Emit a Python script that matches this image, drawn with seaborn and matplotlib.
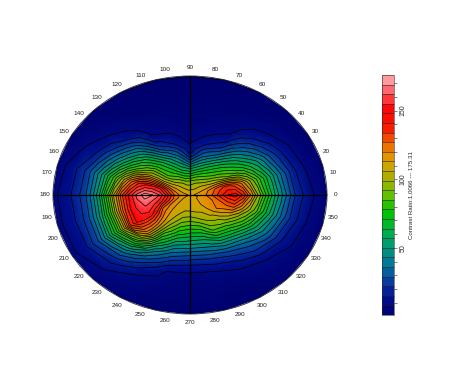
import numpy as np
import matplotlib
matplotlib.use("Agg")
import matplotlib.pyplot as plt
import seaborn as sns

# viewing direction (deg) and polar angle (deg) of the measurement grid
azimuth = list(range(0, 360, 15))
polar = [0, 5, 10, 15, 20, 25, 30, 35, 40, 45, 50, 55, 60, 65, 70, 80, 90]

# contrast ratio, one row per azimuth
contrast = [
    [112, 114, 119, 128, 138, 148, 152, 140, 120, 98, 78, 60, 45, 32, 20, 9, 3],         # 0
    [112, 113, 117, 124, 132, 136, 131, 119, 102, 86, 70, 55, 40, 28, 17, 6, 3],         # 15
    [112, 111, 110, 108, 104, 96, 88, 81, 73, 62, 52, 40, 28, 19, 12, 4, 2],             # 30
    [112, 109, 105, 96, 86, 78, 70, 60, 50, 40, 30, 22, 15, 10, 6, 3, 2],                # 45
    [112, 106, 100, 88, 75, 63, 50, 36, 24, 16, 10, 7, 5, 4, 3, 2, 1],                   # 60
    [112, 105, 97, 82, 64, 49, 35, 24, 14, 9, 6, 5, 4, 3.5, 3, 2, 1],                    # 75
    [112, 104, 94, 75, 56, 34, 16, 10, 7, 5, 4, 3.5, 3, 2.5, 2, 1.5, 1],                 # 90
    [112, 104, 95, 78, 62, 50, 38, 26, 15, 10, 7, 5, 4, 3.5, 3, 2, 1],                   # 105
    [112, 106, 100, 88, 75, 66, 56, 42, 28, 17, 9, 7, 5, 4, 3, 2, 1],                    # 120
    [112, 109, 105, 96, 86, 82, 78, 69, 59, 47, 35, 23, 13, 9, 6, 3, 2],                 # 135
    [112, 111, 112, 110, 108, 108, 106, 96, 84, 70, 55, 42, 30, 20, 12, 6, 3],           # 150
    [112, 114, 120, 132, 146, 149, 148, 140, 125, 106, 86, 67, 50, 36, 24, 11, 5],       # 165
    [112, 116, 126, 145, 162, 170, 173, 164, 150, 132, 107, 80, 55, 38, 25, 13, 6],      # 180
    [112, 116, 123, 137, 150, 158, 163, 158, 150, 130, 104, 78, 55, 38, 25, 12, 6],      # 195
    [112, 113, 116, 120, 125, 142, 152, 153, 150, 135, 105, 80, 60, 42, 28, 12, 6],      # 210
    [112, 111, 111, 112, 114, 118, 122, 122, 118, 100, 78, 56, 40, 28, 18, 8, 5],        # 225
    [112, 111, 110, 108, 105, 100, 92, 81, 70, 56, 42, 31, 20, 13, 8, 5, 3],             # 240
    [112, 111, 109, 103, 95, 85, 74, 61, 48, 36, 25, 15, 8, 6, 5, 3, 2],                 # 255
    [112, 110, 109, 102, 92, 80, 68, 56, 44, 31, 20, 12, 7, 5, 4, 3, 2],                 # 270
    [112, 111, 110, 104, 96, 83, 70, 57, 45, 33, 22, 14, 8, 6, 4, 3, 2],                 # 285
    [112, 112, 110, 106, 102, 95, 87, 72, 56, 41, 28, 19, 12, 8, 5, 3, 2],               # 300
    [112, 112, 113, 112, 108, 101, 93, 80, 66, 51, 38, 29, 22, 14, 8, 4.5, 3],           # 315
    [112, 113, 116, 118, 120, 115, 108, 96, 84, 69, 55, 43, 32, 22, 14, 5.5, 3],         # 330
    [112, 113, 116, 120, 125, 130, 132, 118, 102, 88, 69, 54, 40, 28, 18, 7, 3],         # 345
]

level_min = 1.0066
level_step = 7
n_bands = 25
color_stops = ["#00006e", "#001090", "#0a40a0", "#007898", "#009a78", "#00b040", "#00c400",
               "#60c000", "#a8b000", "#e0a000", "#f06800", "#f81800", "#ff0000", "#ff5860", "#ffb4b4"]
colorbar_ticks = list(range(10, 180, 10))
colorbar_labels = ["50", "100", "150"]
cbar_title = "Contrast Ratio:1.0066 --- 175.31"

sns.set_style("white")
plt.rcParams["font.family"] = ["Liberation Sans", "DejaVu Sans"]

levels = level_min + level_step * np.arange(n_bands + 1)
cmap = sns.blend_palette(color_stops, n_colors=256, as_cmap=True)

theta = np.radians(azimuth + [360])
values = np.array(contrast + [contrast[0]])

fig = plt.figure(figsize=(4.5, 3.9), dpi=100)
ax = fig.add_axes([53 / 450, 76 / 390, 274 / 450, 238 / 390], projection="polar")
ax.set_aspect("auto")

mesh = ax.pcolormesh(theta, polar, values.T, shading="gouraud", cmap=cmap,
                     vmin=levels[0], vmax=levels[-1])
ax.contour(theta, polar, values.T, levels=levels, colors="black", linewidths=0.5)

# dotted grid and the solid cross through the middle
ax.set_ylim(0, 90)
ax.set_xticks(np.radians(range(0, 360, 10)))
ax.set_xticklabels([str(a) for a in range(0, 360, 10)], fontsize=4.6, color="#222222")
ax.set_xticks(np.radians(range(0, 360, 2)), minor=True)
ax.tick_params(axis="x", which="major", direction="out", length=3, width=0.5, pad=-4)
ax.tick_params(axis="x", which="minor", direction="out", length=1, width=0.5)
ax.set_yticks(range(10, 90, 10))
ax.set_yticklabels(["", "", "30", "", "", "60", "", ""], fontsize=4.5, color="white")
ax.set_rlabel_position(-7)
ax.grid(True, color="black", linestyle=":", linewidth=0.35, alpha=0.45)
ax.vlines(np.radians([0, 90, 180, 270]), 0, 90, color="black", linewidth=0.9)
ax.spines["polar"].set_linewidth(0.6)

cax = fig.add_axes([382 / 450, 75 / 390, 12 / 450, 240 / 390])
cbar = fig.colorbar(mesh, cax=cax, boundaries=levels, drawedges=True)
cbar.dividers.set_color("#222222")
cbar.dividers.set_linewidth(0.4)
cbar.outline.set_linewidth(0.4)
cbar.set_ticks(colorbar_ticks)
cbar.set_ticklabels([str(t) if str(t) in colorbar_labels else "" for t in colorbar_ticks])
cax.tick_params(axis="y", length=2.5, width=0.4, pad=1.5, labelsize=5, labelrotation=90)
for lab in cax.get_yticklabels():
    lab.set_va("center")
cbar.set_label(cbar_title, fontsize=4.4, labelpad=2, family=["Liberation Sans Narrow", "Liberation Sans"])

fig.savefig("out.png", dpi=100)
